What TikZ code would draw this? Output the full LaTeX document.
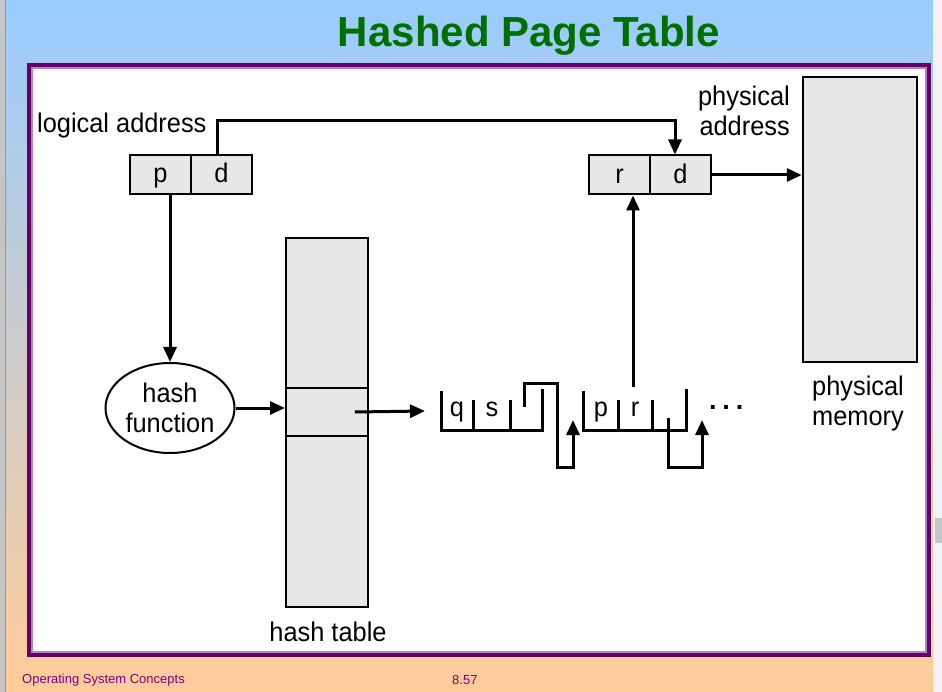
\documentclass[tikz,border=0pt]{standalone}
\usepackage{fontspec}
\setmainfont{Liberation Sans}
\newfontfamily\figfont[FakeStretch=0.94]{Liberation Sans}
\usetikzlibrary{arrows.meta,shapes.geometric}

\definecolor{slideblue}{RGB}{153,204,255}
\definecolor{slidepeach}{RGB}{255,204,153}
\definecolor{framepurple}{RGB}{102,0,102}
\definecolor{framelilac}{RGB}{180,130,200}
\definecolor{titlegreen}{RGB}{0,110,0}
\definecolor{cellgray}{RGB}{231,231,231}
\definecolor{footpurple}{RGB}{128,0,128}

\tikzset{
  cell/.style={draw, line width=2pt, fill=cellgray, minimum width=61pt, minimum height=39pt,
    inner sep=0pt, text height=19pt, text depth=2pt, font=\figfont\fontsize{27}{30}\selectfont},
  lbl/.style={font=\figfont\fontsize{27}{30}\selectfont, inner sep=0pt, align=center},
  ptr/.style={line width=3pt, -{Triangle[length=15pt,width=13pt]}},
  wire/.style={line width=3pt},
}

\begin{document}
\begin{tikzpicture}[x=1pt, y=-1pt]
\useasboundingbox (0,0) rectangle (942,692);
% slide background
\shade[top color=slideblue, bottom color=slidepeach] (0,0) rectangle (942,692);
\fill[gray!45] (0,0) rectangle (4.5,692);
\draw[framelilac, line width=1pt] (5.5,0) -- (5.5,692);
\fill[gray!10] (933,0) rectangle (942,692);
\fill[gray!45] (935,518) rectangle (942,543);
% frame
\fill[framepurple] (27,63) rectangle (931,657);
\fill[framelilac] (31,67) rectangle (927,653);
\fill[white] (33,69) rectangle (925,651);
\node[font=\bfseries\fontsize{42}{48}\selectfont, text=titlegreen, anchor=base, inner sep=0pt]
  (title) at (529,47) {Hashed Page Table};

% addresses
\node[lbl, anchor=base west] (logaddr) at (37,133) {logical address};
\node[cell] (lp) at (160.5,174.5) {p};
\node[cell] (ld) at (221.5,174.5) {d};
\node[lbl, align=right, anchor=east] (phyaddr) at (790,110.6) {physical\\address};
\node[cell] (pr) at (619.5,175) {r};
\node[cell] (pd) at (680.5,175) {d};
\node[draw, line width=2.5pt, fill=cellgray, minimum width=114pt, minimum height=285pt]
  (mem) at (860,219.5) {};
\node[lbl] (memlbl) at (858,403.2) {physical\\memory};

% hash function and table
\node[draw, ellipse, line width=2pt, minimum width=129pt, minimum height=90pt, inner sep=0pt,
  font=\figfont\fontsize{27}{30}\selectfont, align=center] (hf) at (170,408) {hash\\function};
\node[draw, line width=2pt, fill=cellgray, minimum width=82pt, minimum height=369pt]
  (htab) at (327,422.5) {};
\node[draw, line width=1.5pt, minimum width=82pt, minimum height=48pt] (hrow) at (327,412) {};
\node[lbl, anchor=base] (htlbl) at (328,641) {hash table};

% chain
\coordinate (chainin) at (425,411);
\draw[wire] (441,391) |- (542,430) -- (542,389);
\draw[wire] (583,391) |- (686,430) -- (686,389);
\foreach \x in {473,510,618,652}
  \draw[wire] (\x,400) -- (\x,430);
\node[lbl, anchor=base] (cq) at (457,416) {q};
\node[lbl, anchor=base] (cs) at (492,416) {s};
\node[lbl, anchor=base] (cp) at (601,416) {p};
\node[lbl, anchor=base] (cr) at (635,416) {r};
\node[lbl, anchor=base, font=\bfseries\fontsize{27}{30}\selectfont] (dots) at (727,416) {·\,·\,·};
\coordinate (rup) at (633,387);
\draw[ptr] (524,407) |- (557,383) |- (573,467) -- (573,420);
\draw[ptr] (668,418) |- (702,467) -- (702,420);

% connectors
\draw[ptr] ([xshift=-4pt]ld.north) |- ([xshift=-5.5pt,yshift=34pt]pd.north) -- ([xshift=-5.5pt]pd.north);
\draw[ptr] (lp.south -| hf.north) -- (hf.north);
\draw[ptr] (hf.east) -- (hf.east -| htab.west);
\draw[ptr] ([xshift=-14pt]hrow.east) -- (chainin);
\draw[ptr] (rup) -- (rup |- pr.south);
\draw[ptr] (pd.east) -- (pd.east -| mem.west);

% footer
\node[font=\fontsize{13}{15}\selectfont, text=footpurple, anchor=base west, inner sep=0pt]
  (foot) at (22,683) {Operating System Concepts};
\node[font=\fontsize{13}{15}\selectfont, text=footpurple, anchor=base west, inner sep=0pt]
  (pageno) at (452,684) {8.57};
\end{tikzpicture}
\end{document}
